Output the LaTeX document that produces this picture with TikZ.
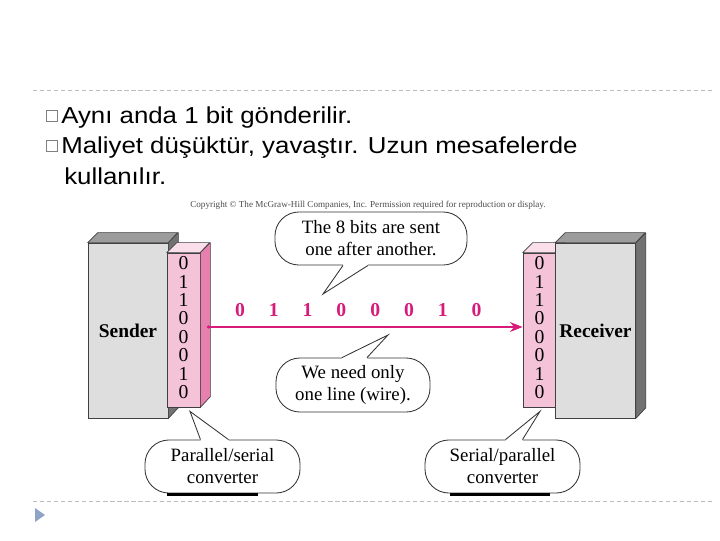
\documentclass[tikz,border=0pt]{standalone}
\usepackage{fontspec}
\setmainfont{Liberation Serif}
\newfontfamily\slidefont{Liberation Sans}[FakeStretch=1.12]
\usetikzlibrary{positioning,arrows.meta,calc}

\definecolor{boxfront}{HTML}{DEDEDE}
\definecolor{boxtop}{HTML}{9C9C9C}
\definecolor{boxside}{HTML}{727272}
\definecolor{regfront}{HTML}{F4C3D8}
\definecolor{regtop}{HTML}{FADFEA}
\definecolor{regside}{HTML}{E680AE}
\definecolor{wirepink}{HTML}{D81B7A}
\definecolor{rulegrey}{HTML}{BDBDBD}
\definecolor{navblue}{HTML}{8EA3C6}

\tikzset{
  bullettext/.style={anchor=base west, inner sep=0pt, font=\slidefont\fontsize{16.4}{19}\selectfont},
  bulletbox/.style={draw=gray, line width=0.6pt, minimum size=0.29cm, inner sep=0pt},
  unitbox/.style={draw=black!75, line width=0.5pt, fill=boxfront, inner sep=0pt,
    minimum width=2cm, minimum height=4.375cm, font=\bfseries\fontsize{13.8}{16}\selectfont},
  regbox/.style={draw=black!75, line width=0.5pt, fill=regfront, inner sep=0pt,
    minimum width=0.825cm, minimum height=3.85cm},
  face/.style={draw=black!75, line width=0.5pt, line join=round},
  regbit/.style={anchor=base, inner sep=0pt, font=\fontsize{14}{15}\selectfont},
  wirebit/.style={anchor=base, inner sep=0pt, text=wirepink, font=\bfseries\fontsize{14}{15}\selectfont},
  bubble/.style={draw=black!80, fill=white, line width=0.6pt, rounded corners=17pt,
    align=center, inner sep=0pt, font=\fontsize{13.4}{15.6}\selectfont},
  tail/.style={draw=black!80, line width=0.6pt, line join=miter},
  rulerline/.style={rulegrey, line width=0.6pt, dash pattern=on 3pt off 2pt},
}

\begin{document}
\begin{tikzpicture}[x=0.025cm,y=-0.025cm]
\useasboundingbox[fill=white] (0,0) rectangle (720,540);

% slide rules
\coordinate (rtl) at (33,90);  \coordinate (rtr) at (715,90);
\coordinate (rbl) at (33,501); \coordinate (rbr) at (715,501);
\draw[rulerline] (rtl) -- (rtr);
\draw[rulerline] (rbl) -- (rbr);

% bullets
\node[bulletbox] (sq1) at (52,116) {};
\node[bullettext] (l1) at (61,123) {Aynı anda 1 bit gönderilir.};
\node[bulletbox] (sq2) at (52,146) {};
\node[bullettext] (l2) at (61,153) {Maliyet düşüktür, yavaştır. Uzun mesafelerde};
\node[bullettext] (l3) at (64,184) {kullanılır.};

\node[font=\fontsize{6.5}{7}\selectfont, text=black!70, inner sep=0pt] (copy) at (368,205)
  {Copyright © The McGraw-Hill Companies, Inc. Permission required for reproduction or display.};

% sender
\node[unitbox] (sender) at (128,330.5) {Sender};
\filldraw[face, fill=boxtop] (sender.north west) -- ++(10,-10) -- ++(80,0) -- (sender.north east) -- cycle;
\filldraw[face, fill=boxside] (sender.north east) -- ++(10,-10) -- ++(0,175) -- (sender.south east) -- cycle;
\node[regbox] (sreg) at (183.5,330) {};
\filldraw[face, fill=regtop] (sreg.north west) -- ++(10,-10) -- ++(33,0) -- (sreg.north east) -- cycle;
\filldraw[face, fill=regside] (sreg.north east) -- ++(10,-10) -- ++(0,154) -- (sreg.south east) -- cycle;
\foreach \b [count=\i from 0] in {0,1,1,0,0,0,1,0}
  \node[regbit] (sb\i) at ($(sreg.north)+(0,{17+\i*18.43})$) {\b};

% receiver
\node[regbox] (rreg) at (539.5,330) {};
\filldraw[face, fill=regtop] (rreg.north west) -- ++(10,-10) -- ++(33,0) -- (rreg.north east) -- cycle;
\node[unitbox] (receiver) at (595.5,330.5) {Receiver};
\filldraw[face, fill=boxtop] (receiver.north west) -- ++(10,-10) -- ++(80,0) -- (receiver.north east) -- cycle;
\filldraw[face, fill=boxside] (receiver.north east) -- ++(10,-10) -- ++(0,175) -- (receiver.south east) -- cycle;
\foreach \b [count=\i from 0] in {0,1,1,0,0,0,1,0}
  \node[regbit] (rb\i) at ($(rreg.north)+(0,{17+\i*18.43})$) {\b};

% the one wire
\coordinate (wstart) at ($(sreg.east)+(8,-3)$);
\fill[wirepink] (wstart) circle (1.3pt);
\draw[wirepink, line width=1.4pt, -{Stealth[length=9pt,width=7pt]}] (wstart) -- (rreg.west |- wstart);
\foreach \b [count=\i from 0] in {0,1,1,0,0,0,1,0}
  \node[wirebit] (wb\i) at ({240+\i*33.8},316) {\b};

% callouts
\node[bubble, minimum width=4.8cm, minimum height=1.325cm] (sentnote) at (371,238.5)
  {The 8 bits are sent\\one after another.};
\coordinate (senttip) at (323,294);
\fill[white] ($(sentnote.south)+(-28,-3)$) -- ($(sentnote.south)+(-28,0)$) -- (senttip)
  -- ($(sentnote.south)+(-3,0)$) -- ($(sentnote.south)+(-3,-3)$) -- cycle;
\draw[tail] ($(sentnote.south)+(-28,0)$) -- (senttip) -- ($(sentnote.south)+(-3,0)$);

\node[bubble, minimum width=3.85cm, minimum height=1.35cm] (wirenote) at (353,385)
  {We need only\\one line (wire).};
\coordinate (wiretip) at (388,335);
\fill[white] ($(wirenote.north)+(-11,3)$) -- ($(wirenote.north)+(-11,0)$) -- (wiretip)
  -- ($(wirenote.north)+(14,0)$) -- ($(wirenote.north)+(14,3)$) -- cycle;
\draw[tail] ($(wirenote.north)+(-11,0)$) -- (wiretip) -- ($(wirenote.north)+(14,0)$);

\node[bubble, minimum width=3.875cm, minimum height=1.325cm] (psconv) at (222.5,466.5)
  {Parallel/serial\\converter};
\draw[line width=1.6pt] ($(psconv.south)+(-55.5,1)$) -- ($(psconv.south)+(35.5,1)$);
\coordinate (pstip) at ($(sreg.south)+(6.5,4)$);
\fill[white] ($(psconv.north)+(-22,3)$) -- ($(psconv.north)+(-22,0)$) -- (pstip)
  -- ($(psconv.north)+(6,0)$) -- ($(psconv.north)+(6,3)$) -- cycle;
\draw[tail] ($(psconv.north)+(-22,0)$) -- (pstip) -- ($(psconv.north)+(6,0)$);

\node[bubble, minimum width=3.875cm, minimum height=1.325cm] (spconv) at (502.5,466.5)
  {Serial/parallel\\converter};
\draw[line width=1.6pt] ($(spconv.south)+(-52.5,1)$) -- ($(spconv.south)+(47.5,1)$);
\coordinate (sptip) at ($(rreg.south)+(0.5,4)$);
\fill[white] ($(spconv.north)+(3,3)$) -- ($(spconv.north)+(3,0)$) -- (sptip)
  -- ($(spconv.north)+(20,0)$) -- ($(spconv.north)+(20,3)$) -- cycle;
\draw[tail] ($(spconv.north)+(3,0)$) -- (sptip) -- ($(spconv.north)+(20,0)$);

% slide marker
\fill[navblue] (35,508) -- (45,515) -- (35,522) -- cycle;
\end{tikzpicture}
\end{document}
